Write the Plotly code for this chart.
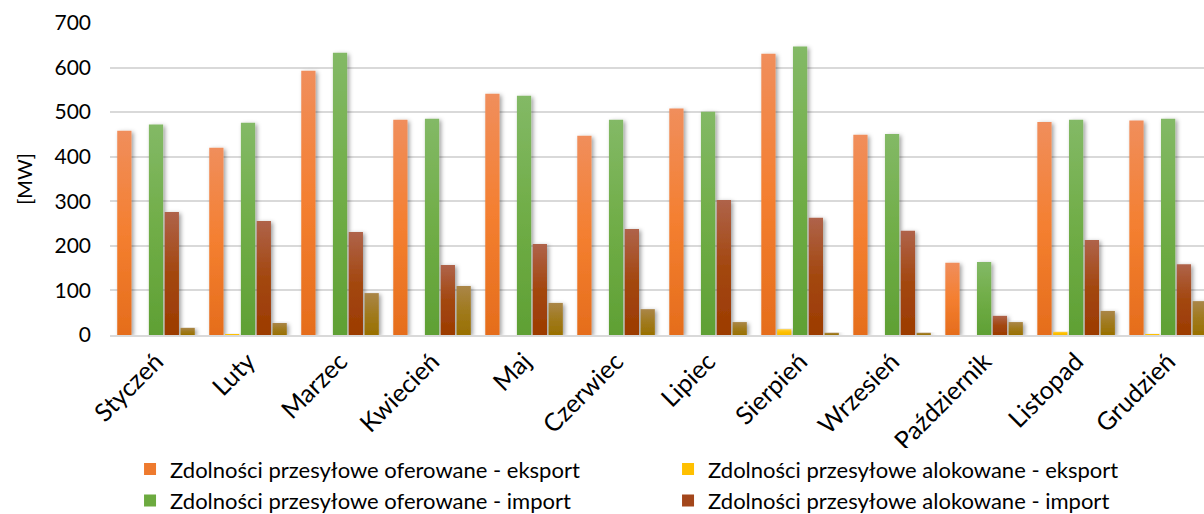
import plotly.graph_objects as go

months = ["Styczeń", "Luty", "Marzec", "Kwiecień", "Maj", "Czerwiec", "Lipiec",
          "Sierpień", "Wrzesień", "Październik", "Listopad", "Grudzień"]

oferowane_eksport = [458, 420, 593, 483, 541, 447, 508, 631, 449, 162, 478, 481]
alokowane_eksport = [0, 2, 0, 0, 0, 0, 0, 13, 0, 0, 7, 2]
oferowane_import = [472, 476, 633, 485, 537, 483, 501, 647, 451, 164, 483, 485]
alokowane_import = [276, 256, 231, 157, 204, 238, 303, 263, 234, 43, 213, 159]
pozostale = [16, 27, 94, 110, 72, 58, 29, 5, 5, 29, 54, 76]

y_ticks = [0, 100, 200, 300, 400, 500, 600, 700]

# (name, values, base colour, gradient top / middle / bottom, in legend)
series = [
    ("Zdolności przesyłowe oferowane - eksport", oferowane_eksport, "#EE7A2E",
     ("#F08E5C", "#F47F30", "#E56D1C"), True),
    ("Zdolności przesyłowe alokowane - eksport", alokowane_eksport, "#FFC000",
     ("#FFCE3A", "#FFC000", "#F5B800"), True),
    ("Zdolności przesyłowe oferowane - import", oferowane_import, "#6CAA3F",
     ("#83B966", "#70AD47", "#5FA034"), True),
    ("Zdolności przesyłowe alokowane - import", alokowane_import, "#A3461B",
     ("#AF634A", "#A3470F", "#9C3B02"), True),
    ("Pozostałe", pozostale, "#9E7820",
     ("#AA8648", "#A07A1E", "#997000"), False),
]

FONT = "Lato"
fig = go.Figure()
for name, vals, color, _, show in series:
    fig.add_trace(go.Bar(
        x=months, y=vals, name=name, marker_color=color,
        marker_line_width=0, showlegend=show,
    ))

fig.update_layout(
    width=1204, height=514,
    margin=dict(l=110, r=0, t=23, b=179, autoexpand=False),
    paper_bgcolor="white", plot_bgcolor="white",
    barmode="group", bargap=0.14, bargroupgap=0.1,
    font=dict(family=FONT, size=20, color="#000000"),
    legend=dict(
        orientation="h", x=0.108, xref="container", y=0.128, yref="container",
        xanchor="left", yanchor="top",
        entrywidth=493, entrywidthmode="pixels",
        font=dict(family=FONT, size=22, color="#000000"),
        itemclick=False, tracegroupgap=0,
    ),
)
fig.update_xaxes(
    range=[-0.5, 11.39], tickangle=-45, showgrid=False, automargin=False,
    showline=True, linecolor="#D9D9D9", linewidth=2,
    tickfont=dict(family=FONT, size=25),
)
fig.update_yaxes(
    range=[0, 700], tickvals=y_ticks, showgrid=True, gridcolor="#D9D9D9", gridwidth=2,
    zeroline=False, showline=False, ticklabelstandoff=18, automargin=False,
    tickfont=dict(family=FONT, size=21),
    title=dict(text="[MW]", font=dict(family=FONT, size=20), standoff=16),
)

# Vertical gradient fills and a soft drop shadow on the bars (SVG styling).
grad_js = "[" + ",".join(
    "['%s','%s','%s']" % g for _, _, _, g, _ in series
) + "]"
post_script = """
var gd = document.getElementById('{plot_id}');
var grads = %s;
function styleBars() {
  var svg = gd.querySelector('svg.main-svg');
  if (!svg) return;
  var ns = 'http://www.w3.org/2000/svg';
  var defs = svg.querySelector('defs');
  if (!svg.querySelector('#barshadow')) {
    var f = document.createElementNS(ns, 'filter');
    f.setAttribute('id', 'barshadow');
    f.setAttribute('x', '-50%%'); f.setAttribute('y', '-10%%');
    f.setAttribute('width', '200%%'); f.setAttribute('height', '130%%');
    var ds = document.createElementNS(ns, 'feDropShadow');
    ds.setAttribute('dx', '2'); ds.setAttribute('dy', '1.5');
    ds.setAttribute('stdDeviation', '2.2');
    ds.setAttribute('flood-color', '#000');
    ds.setAttribute('flood-opacity', '0.38');
    f.appendChild(ds); defs.appendChild(f);
    grads.forEach(function (g, i) {
      var lg = document.createElementNS(ns, 'linearGradient');
      lg.setAttribute('id', 'bargrad' + i);
      lg.setAttribute('x1', '0'); lg.setAttribute('y1', '0');
      lg.setAttribute('x2', '0'); lg.setAttribute('y2', '1');
      [[0, g[0]], [0.5, g[1]], [1, g[2]]].forEach(function (s) {
        var st = document.createElementNS(ns, 'stop');
        st.setAttribute('offset', s[0]);
        st.setAttribute('stop-color', s[1]);
        lg.appendChild(st);
      });
      defs.appendChild(lg);
    });
  }
  var traces = gd.querySelectorAll('.cartesianlayer .trace.bars');
  traces.forEach(function (t, i) {
    t.querySelectorAll('path').forEach(function (p) {
      p.style.fill = 'url(#bargrad' + i + ')';
      p.style.filter = 'url(#barshadow)';
    });
  });
}
styleBars();
gd.on('plotly_afterplot', styleBars);
""" % grad_js

fig.write_html("out.html", post_script=post_script)
